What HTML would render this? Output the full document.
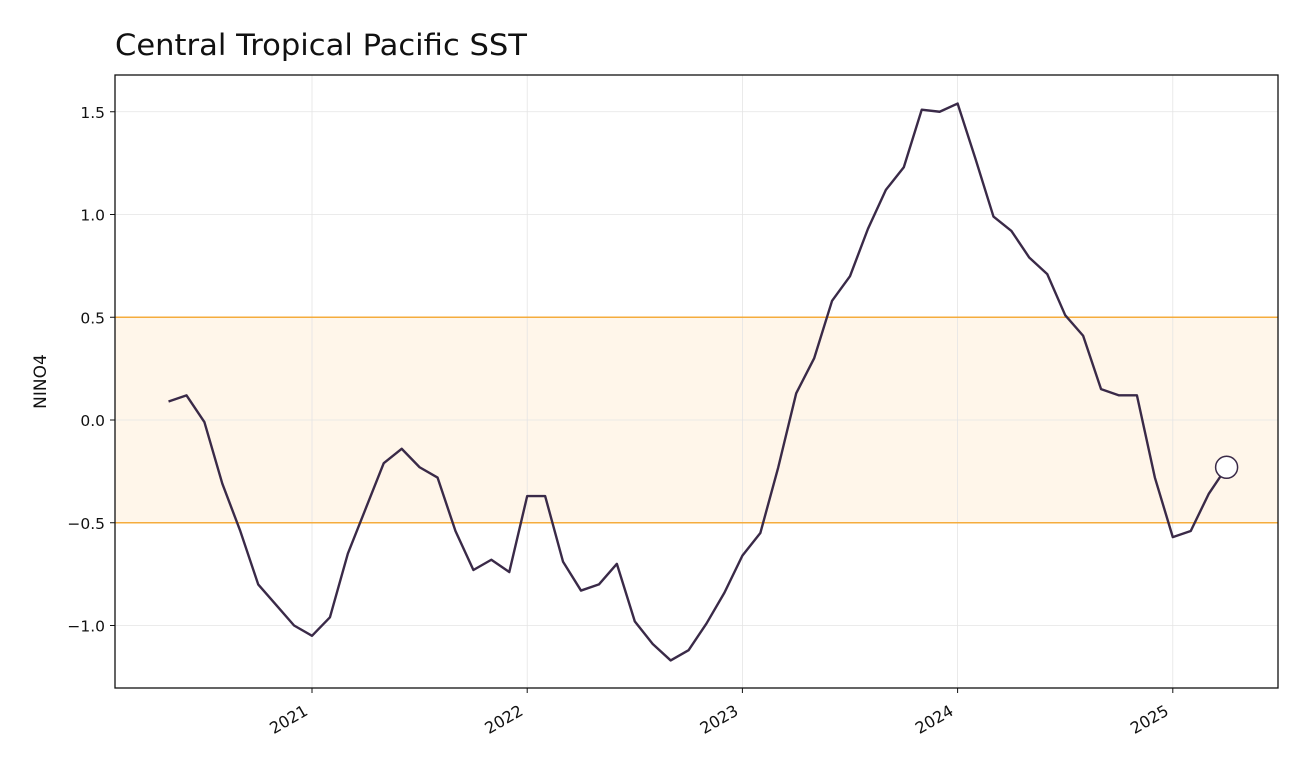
<!DOCTYPE html>
<html><head><meta charset="utf-8"><style>
body{margin:0;background:#fff;}
svg text{font-family:"DejaVu Sans","Liberation Sans",sans-serif;}
</style></head><body>
<svg id="chart" width="1307" height="775" xmlns="http://www.w3.org/2000/svg">
<text x="115" y="55" font-size="29" fill="#111" textLength="412" lengthAdjust="spacingAndGlyphs">Central Tropical Pacific SST</text>
<g id="plot"></g>
</svg>
<script>
const startYear = 2020, startMonth = 5;
const values = [0.09,0.12,-0.01,-0.31,-0.54,-0.80,-0.90,-1.00,
-1.05,-0.96,-0.65,-0.43,-0.21,-0.14,-0.23,-0.28,-0.54,-0.73,-0.68,-0.74,
-0.37,-0.37,-0.69,-0.83,-0.80,-0.70,-0.98,-1.09,-1.17,-1.12,-0.99,-0.84,
-0.66,-0.55,-0.23,0.13,0.30,0.58,0.70,0.93,1.12,1.23,1.51,1.50,
1.54,1.27,0.99,0.92,0.79,0.71,0.51,0.41,0.15,0.12,0.12,-0.28,
-0.57,-0.54,-0.36,-0.23];
const yTicks = [-1.0,-0.5,0.0,0.5,1.0,1.5];
const yTickLabels = ["\u22121.0","\u22120.5","0.0","0.5","1.0","1.5"];
const xTicks = [2021,2022,2023,2024,2025];
const band = [-0.5,0.5];

const L=115,R=1278,T=75,B=688;
const NS="http://www.w3.org/2000/svg";
const g=document.getElementById('plot');
function y(v){return 420-205.5*v;}
function x(t){return 312+(t-2021)*215.2;}
function mk(tag,attrs,parent){const e=document.createElementNS(NS,tag);for(const k in attrs)e.setAttribute(k,attrs[k]);(parent||g).appendChild(e);return e;}

let e=mk('rect',{x:L,y:y(band[1]),width:R-L,height:y(band[0])-y(band[1]),fill:'#fff6ea'});


xTicks.forEach(t=>{const l=mk('line',{x1:x(t),x2:x(t),y1:T,y2:B,stroke:'#e4e4e4','stroke-width':0.8});

});
yTicks.forEach(v=>{const l=mk('line',{x1:L,x2:R,y1:y(v),y2:y(v),stroke:'#e4e4e4','stroke-width':0.8});

});
band.forEach(v=>{const l=mk('line',{x1:L,x2:R,y1:y(v),y2:y(v),stroke:'#f5ac3c','stroke-width':1.5});

});
const pts=values.map((v,i)=>{const t=startYear+(startMonth-1+i)/12;return [x(t),y(v)];});
const p=mk('polyline',{points:pts.map(q=>q.join(',')).join(' '),fill:'none',stroke:'#3a2a48','stroke-width':2.4,'stroke-linejoin':'round'});


const last=pts[pts.length-1];
const c=mk('circle',{cx:last[0],cy:last[1],r:11,fill:'#fff',stroke:'#3a2a48','stroke-width':1.5});


const f=mk('rect',{x:L,y:T,width:R-L,height:B-T,fill:'none',stroke:'#111','stroke-width':1.3});


yTicks.forEach((v,i)=>{mk('line',{x1:L-5,x2:L,y1:y(v),y2:y(v),stroke:'#111','stroke-width':1});
const tx=mk('text',{x:L-10,y:y(v)+6,'text-anchor':'end','font-size':15.5,fill:'#111'});tx.textContent=yTickLabels[i];

});
xTicks.forEach(t=>{const X=x(t);mk('line',{x1:X,x2:X,y1:B,y2:B+5,stroke:'#111','stroke-width':1});
const ax=X-3, ay=B+26;
const tx=mk('text',{x:ax,y:ay,'text-anchor':'end','font-size':16,fill:'#111',transform:`rotate(-30 ${ax} ${ay})`});tx.textContent=t;

});
const yl=mk('text',{x:46,y:(T+B)/2,'text-anchor':'middle','font-size':17,fill:'#111',transform:`rotate(-90 46 ${(T+B)/2})`});yl.textContent='NINO4';


</script>
</body></html>
